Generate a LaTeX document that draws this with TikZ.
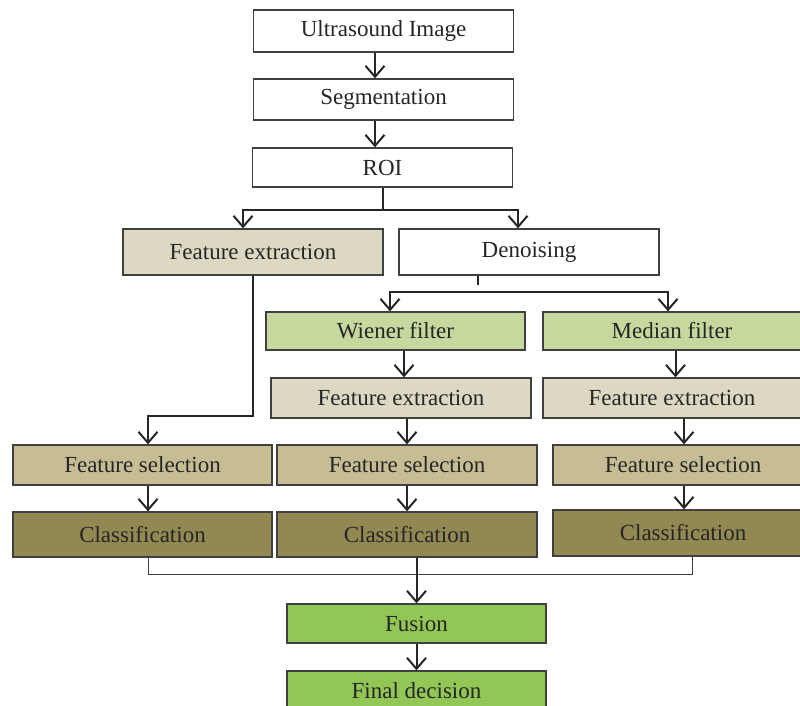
\documentclass[tikz,border=0pt]{standalone}
\usepackage{fontspec}
\setmainfont{Liberation Serif}
\usetikzlibrary{arrows.meta}

\definecolor{TANL}{HTML}{DDD8C2}
\definecolor{TANM}{HTML}{C6BD95}
\definecolor{OLIV}{HTML}{928852}
\definecolor{GRNL}{HTML}{C5D89E}
\definecolor{GRNB}{HTML}{92C655}

\tikzset{
  stagebox/.style={draw=black!75, line width=1.3pt, inner sep=0pt,
    minimum width=260pt, minimum height=40pt, text=black!85,
    font=\fontsize{23}{26}\selectfont},
  flow/.style={draw=black!85, line width=2pt,
    -{Straight Barb[length=11pt, width=19pt, line width=2pt]}},
  wire/.style={draw=black!85, line width=2pt}
}

\begin{document}
\begin{tikzpicture}[x=1pt, y=-1pt]
            \clip (0,0) rectangle (800,706);
            \fill[white] (0,0) rectangle (800,706);

            % top column
            \node[stagebox, fill=white, minimum height=42pt] (us) at (383.5, 31) {Ultrasound Image};
            \node[stagebox, fill=white, minimum height=41pt] (seg) at (383.5, 99.5) {Segmentation};
            \node[stagebox, fill=white, minimum height=39pt] (roi) at (382.5, 167.5) {ROI};

            \node[stagebox, fill=TANL, minimum height=46pt] (fe0) at (253, 252) {Feature extraction};
            \node[stagebox, fill=white, minimum height=46pt] (den) at (529, 252) {Denoising};

            % filters
            \node[stagebox, fill=GRNL, minimum width=259pt, minimum height=38pt] (wie) at (395.5, 331) {Wiener filter};
            \node[stagebox, fill=GRNL, minimum width=265pt, minimum height=38pt] (med) at (675.5, 331) {\hspace*{-7pt}Median filter};

            \node[stagebox, fill=TANL] (fe1) at (401, 398) {Feature extraction};
            \node[stagebox, fill=TANL, minimum width=265pt] (fe2) at (675.5, 398) {\hspace*{-7pt}Feature extraction};

            % selection and classification
            \node[stagebox, fill=TANM, minimum width=259pt] (fs0) at (142.5, 465) {Feature selection};
            \node[stagebox, fill=TANM] (fs1) at (407, 465) {Feature selection};
            \node[stagebox, fill=TANM, minimum width=255pt] (fs2) at (680.5, 465) {\hspace*{5pt}Feature selection};

            \node[stagebox, fill=OLIV, minimum width=259pt, minimum height=45pt] (cl0) at (142.5, 534.5) {Classification};
            \node[stagebox, fill=OLIV, minimum height=45pt] (cl1) at (407, 534.5) {Classification};
            \node[stagebox, fill=OLIV, minimum width=255pt, minimum height=46pt] (cl2) at (680.5, 533) {\hspace*{5pt}Classification};

            \node[stagebox, fill=GRNB, minimum width=259pt, minimum height=39pt] (fus) at (416.5, 623.5) {Fusion};
            \node[stagebox, fill=GRNB, minimum width=259pt, minimum height=40pt] (fin) at (416.5, 691) {Final decision};

            % junction points
            \coordinate (roiJ) at (382.5, 210);
            \coordinate (denJ) at (478, 292);
            \coordinate (feJ) at (252, 416);
            \coordinate (clJ) at (416, 574);

            \draw[flow] ([xshift=-8.5]us.south) -- ([xshift=-8.5]seg.north);
            \draw[flow] ([xshift=-8.5]seg.south) -- ([xshift=-7.5]roi.north);

            \draw[wire] (roi.south) -- (roiJ);
            \draw[flow] (roiJ) -| ([xshift=-10]fe0.north);
            \draw[flow] (roiJ) -| ([xshift=-11]den.north);

            \draw[wire] ([xshift=-51]den.south) -- ++(0,9);
            \draw[flow] (denJ) -| ([xshift=-5.5]wie.north);
            \draw[flow] (denJ) -| ([xshift=-7.5]med.north);

            \draw[flow] ([xshift=8.5]wie.south) -- ([xshift=8.5]wie.south |- fe1.north);
            \draw[flow] (fs1.north |- fe1.south) -- (fs1.north);
            \draw[flow] (fs1.south) -- (cl1.north);

            \draw[flow] (med.south) -- (fe2.north);
            \draw[flow] ([xshift=3.5]fs2.north |- fe2.south) -- ([xshift=3.5]fs2.north);
            \draw[flow] ([xshift=3.5]fs2.south) -- ([xshift=3.5]cl2.north);

            \draw[flow] (fe0.south) -- (fe0.south |- feJ) -| ([xshift=5.5]fs0.north);
            \draw[flow] ([xshift=5.5]fs0.south) -- ([xshift=5.5]cl0.north);

            % merge
            \draw[black!75, line width=1pt] ([xshift=5.5]cl0.south) |- (clJ);
            \draw[black!75, line width=1pt] ([xshift=11.5]cl2.south) |- (clJ);
            \draw[flow] (fus.north |- cl1.south) -- (fus.north);
            \draw[flow] (fus.south) -- (fin.north);
        \end{tikzpicture}
\end{document}
